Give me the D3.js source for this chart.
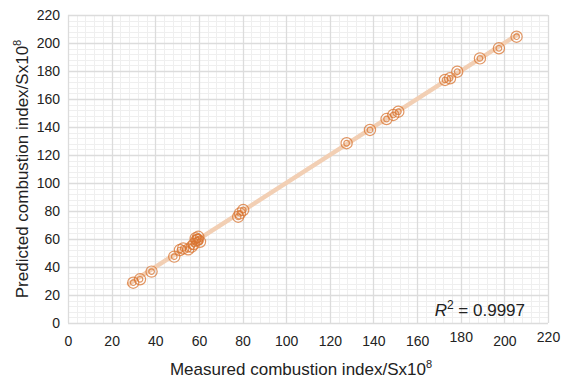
<!DOCTYPE html>
<html>
<head>
<meta charset="utf-8">
<script src="https://cdn.jsdelivr.net/npm/d3@7"></script>
<style>
  body { margin: 0; background: #fff; }
  text { font-family: "Liberation Sans", Arial, sans-serif; fill: #222; }
</style>
</head>
<body>
<div id="chart"></div>
<script>

// values
var measured  = [29.9, 33, 38.3, 48.7, 51.3, 52.8, 55.1, 56.7, 57.7, 58.5, 59, 59.5, 59.7, 60.5, 78, 78.8, 80.3, 127.7, 138.4, 146, 149.1, 151.4, 172.8, 175.1, 178.4, 188.8, 197.5, 205.6];
var predicted = [28.8, 31.2, 36.7, 47.4, 52.1, 53.3, 52.6, 54.5, 56.4, 60.5, 59.3, 59.5, 61.6, 58, 75.9, 78.3, 80.7, 128.4, 137.9, 145.7, 148.6, 150.9, 173.6, 174.8, 179.5, 189, 196.2, 204.5];
var tickValues = [0, 20, 40, 60, 80, 100, 120, 140, 160, 180, 200, 220];
var fitLine = [28, 206];
var rSquared = "0.9997";

var width = 562, height = 382;
var margin = {top: 15, right: 14, bottom: 59, left: 68};

var svg = d3.select("#chart").append("svg")
    .attr("width", width)
    .attr("height", height);

var x = d3.scaleLinear().domain([0, 220]).range([margin.left, width - margin.right]);
var y = d3.scaleLinear().domain([0, 220]).range([height - margin.bottom, margin.top]);

// minor grid every 4, major every 20
var minor = d3.range(0, 221, 4);
svg.append("g").selectAll("line")
    .data(minor).enter().append("line")
    .attr("x1", function(d) { return Math.round(x(d)) + 0.5; })
    .attr("x2", function(d) { return Math.round(x(d)) + 0.5; })
    .attr("y1", y(0)).attr("y2", y(220))
    .style("stroke", "#efefef").style("stroke-width", 1);
svg.append("g").selectAll("line")
    .data(minor).enter().append("line")
    .attr("y1", function(d) { return Math.round(y(d)) + 0.5; })
    .attr("y2", function(d) { return Math.round(y(d)) + 0.5; })
    .attr("x1", x(0)).attr("x2", x(220))
    .style("stroke", "#efefef").style("stroke-width", 1);

svg.append("g").selectAll("line")
    .data(tickValues).enter().append("line")
    .attr("x1", function(d) { return Math.round(x(d)) + 0.5; })
    .attr("x2", function(d) { return Math.round(x(d)) + 0.5; })
    .attr("y1", y(0)).attr("y2", y(220))
    .style("stroke", "#dcdcdc").style("stroke-width", 1.3);
svg.append("g").selectAll("line")
    .data(tickValues).enter().append("line")
    .attr("y1", function(d) { return Math.round(y(d)) + 0.5; })
    .attr("y2", function(d) { return Math.round(y(d)) + 0.5; })
    .attr("x1", x(0)).attr("x2", x(220))
    .style("stroke", "#dcdcdc").style("stroke-width", 1.3);

// axes, labels only
var xAxis = svg.append("g")
    .attr("transform", "translate(0," + (y(0) + 12) + ")")
    .call(d3.axisBottom(x).tickValues(tickValues).tickSize(0).tickPadding(0));
xAxis.select(".domain").remove();
xAxis.selectAll("text")
    .style("font-size", "14px")
    .attr("dy", function(d) { return (d == 180 || d == 220) ? "0.5em" : "0.8em"; });

var yAxis = svg.append("g")
    .attr("transform", "translate(" + (x(0) - 8) + ",0)")
    .call(d3.axisLeft(y).tickValues(tickValues).tickSize(0).tickPadding(0));
yAxis.select(".domain").remove();
yAxis.selectAll("text").style("font-size", "14px");

// fit line
svg.append("line")
    .attr("x1", x(fitLine[0])).attr("y1", y(fitLine[0]))
    .attr("x2", x(fitLine[1])).attr("y2", y(fitLine[1]))
    .style("stroke", "#f2cfb4")
    .style("stroke-width", 4.5)
    .style("stroke-linecap", "round");

// points (double rings)
var pts = measured.map(function(d, i) { return {m: d, p: predicted[i]}; });
var g = svg.append("g").selectAll("g")
    .data(pts).enter().append("g")
    .attr("transform", function(d) { return "translate(" + x(d.m) + "," + y(d.p) + ")"; });
g.append("circle").attr("r", 5.6)
    .style("fill", "none").style("stroke", "#d8732f").style("stroke-opacity", 0.75).style("stroke-width", 1.2);
g.append("circle").attr("r", 2.8)
    .style("fill", "none").style("stroke", "#d8732f").style("stroke-opacity", 0.75).style("stroke-width", 1.2);

// R^2
var r2 = svg.append("text")
    .attr("x", 525).attr("y", 316)
    .attr("text-anchor", "end")
    .style("font-size", "17px");
r2.append("tspan").style("font-style", "italic").text("R");
r2.append("tspan").attr("dy", -7).style("font-size", "12px").text("2");
r2.append("tspan").attr("dy", 7).text(" = " + rSquared);

// axis titles
var xt = svg.append("text")
    .attr("x", 301).attr("y", 375)
    .attr("text-anchor", "middle")
    .style("font-size", "17px");
xt.append("tspan").text("Measured combustion index/Sx10");
xt.append("tspan").attr("dy", -7).style("font-size", "11px").text("8");

var yt = svg.append("text")
    .attr("transform", "translate(28," + ((y(0) + y(220)) / 2) + ")rotate(-90)")
    .attr("text-anchor", "middle")
    .style("font-size", "17px");
yt.append("tspan").text("Predicted combustion index/Sx10");
yt.append("tspan").attr("dy", -7).style("font-size", "11px").text("8");

</script>
</body>
</html>
